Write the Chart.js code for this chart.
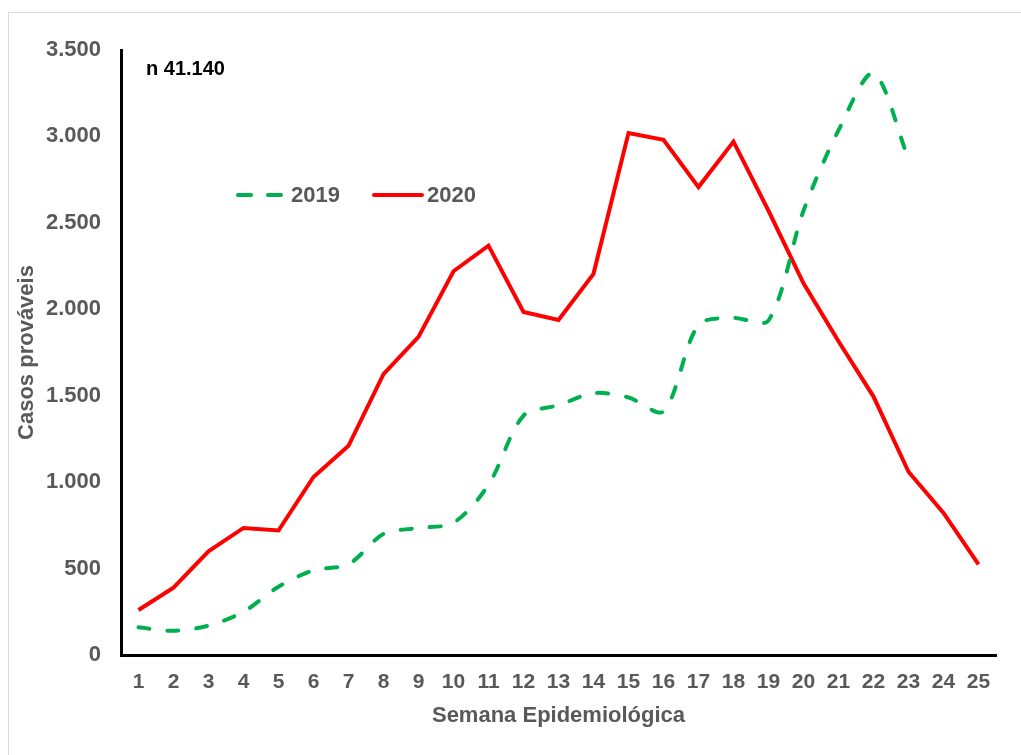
<!DOCTYPE html>
<html>
<head>
<meta charset="utf-8">
<script src="https://cdn.jsdelivr.net/npm/chart.js@4.4.1/dist/chart.umd.min.js"></script>
<style>
  html, body { margin: 0; padding: 0; background: #fff; overflow: hidden; }
  #frame { position: absolute; left: 8px; top: 12px; width: 1100px; height: 800px;
           border-left: 1px solid #d9d9d9; border-top: 1px solid #d9d9d9; }
  #wrap { position: absolute; left: 0; top: 0; width: 1021px; height: 755px; }
</style>
</head>
<body>
<div id="frame"></div>
<div id="wrap"><canvas id="c" width="1021" height="755"></canvas></div>
<script>
const weeks = ['1','2','3','4','5','6','7','8','9','10','11','12','13','14','15','16','17','18','19','20','21','22','23','24','25'];
const cases2019 = [160, 140, 170, 250, 395, 490, 525, 700, 735, 765, 985, 1385, 1445, 1515, 1490, 1410, 1910, 1950, 1935, 2570, 3035, 3365, 2870];
const cases2020 = [260, 390, 600, 735, 720, 1030, 1210, 1625, 1840, 2220, 2368, 1984, 1938, 2205, 3020, 2980, 2707, 2970, 2570, 2150, 1815, 1495, 1060, 822, 524];
const yTicks = [0, 500, 1000, 1500, 2000, 2500, 3000, 3500];
const seriesNames = ['2019', '2020'];
const annotationText = 'n 41.140';

const FONT = '"Liberation Sans", Arial, Helvetica, sans-serif';
const GREEN = '#00B050';
const RED = '#FF0000';
const GREY = '#595959';

function fmt(v) { return String(v).replace(/\B(?=(\d{3})+(?!\d))/g, '.'); }

const overlay = {
  id: 'overlay',
  afterDraw(chart) {
    const ctx = chart.ctx;
    ctx.save();
    // annotation
    ctx.fillStyle = '#000';
    ctx.font = 'bold 20px ' + FONT;
    ctx.textBaseline = 'middle';
    ctx.textAlign = 'left';
    ctx.fillText(annotationText, 146, 69);
    // legend
    const ly = 195;
    ctx.lineWidth = 4;
    ctx.lineCap = 'round';
    ctx.strokeStyle = GREEN;
    ctx.setLineDash([13, 17]);
    ctx.beginPath(); ctx.moveTo(238, ly); ctx.lineTo(281, ly); ctx.stroke();
    ctx.setLineDash([]);
    ctx.strokeStyle = RED;
    ctx.beginPath(); ctx.moveTo(374, ly); ctx.lineTo(422, ly); ctx.stroke();
    ctx.fillStyle = GREY;
    ctx.font = 'bold 22px ' + FONT;
    ctx.fillText(seriesNames[0], 291, ly + 1);
    ctx.fillText(seriesNames[1], 427, ly + 1);
    ctx.restore();
  }
};

new Chart(document.getElementById('c'), {
  type: 'line',
  data: {
    labels: weeks,
    datasets: [
      { label: seriesNames[0], data: cases2019, borderColor: GREEN, borderWidth: 4,
        borderDash: [11, 18], borderCapStyle: 'round', tension: 0.3,
        pointRadius: 0, fill: false },
      { label: seriesNames[1], data: cases2020, borderColor: RED, borderWidth: 4,
        tension: 0, pointRadius: 0, fill: false, borderJoinStyle: 'miter' }
    ]
  },
  options: {
    responsive: false,
    animation: false,
    events: [],
    layout: { padding: { left: 0, top: 50, right: 25, bottom: 0 } },
    plugins: { legend: { display: false }, tooltip: { enabled: false } },
    scales: {
      x: {
        offset: true,
        grid: { display: false, drawTicks: false },
        border: { display: true, color: '#000', width: 3 },
        ticks: { color: GREY, font: { family: FONT, size: 21, weight: 'bold' }, padding: 15, maxRotation: 0, autoSkip: false },
        title: { display: true, text: 'Semana Epidemiológica', color: GREY,
                 font: { family: FONT, size: 22, weight: 'bold' }, padding: { top: 0, bottom: 26 } },
        afterFit(s) { s.height = 100; }
      },
      y: {
        min: 0, max: 3500,
        afterBuildTicks(s) { s.ticks = yTicks.map(v => ({ value: v })); },
        grid: { display: false, drawTicks: false },
        border: { display: true, color: '#000', width: 3 },
        ticks: { color: GREY, font: { family: FONT, size: 22, weight: 'bold' }, padding: 20,
                 callback: v => fmt(v) },
        title: { display: true, text: 'Casos prováveis', color: GREY,
                 font: { family: FONT, size: 22, weight: 'bold' }, padding: { top: 14, bottom: 0 } },
        afterFit(s) { s.width = 121; }
      }
    }
  },
  plugins: [overlay]
});
</script>
</body>
</html>
